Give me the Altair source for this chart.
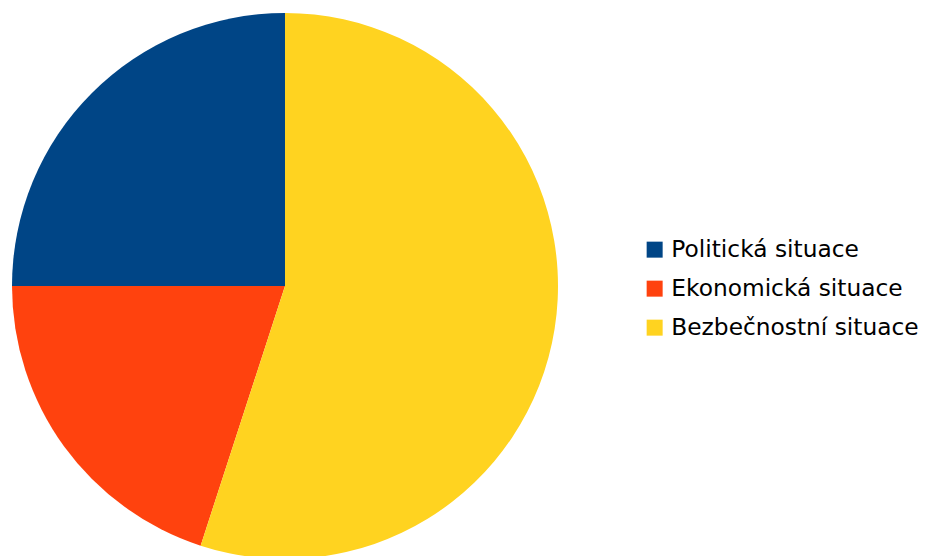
import altair as alt
import pandas as pd

categories = ["Politická situace", "Ekonomická situace", "Bezbečnostní situace"]
values = [25, 20, 55]
draw_order = [3, 2, 1]
colors = ["#004586", "#ff420e", "#ffd320"]

df = pd.DataFrame({"kategorie": categories, "hodnota": values, "poradi": draw_order})

chart = alt.Chart(df).mark_arc(stroke=None).encode(
    theta=alt.Theta("hodnota:Q", stack=True),
    order=alt.Order("poradi:Q"),
    color=alt.Color(
        "kategorie:N",
        sort=categories,
        scale=alt.Scale(domain=categories, range=colors),
        legend=alt.Legend(
            title=None,
            orient="none",
            legendX=643,
            legendY=238,
            symbolType="square",
            symbolSize=256,
            symbolStrokeWidth=0,
            labelFontSize=23.3,
            labelFont="DejaVu Sans",
            labelColor="#000000",
            labelOffset=5,
            labelLimit=0,
            rowPadding=15,
            padding=0,
        ),
    ),
    x=alt.value(285),
    y=alt.value(286),
    radius=alt.value(273),
).properties(
    width=925, height=556, padding=0, autosize=alt.AutoSizeParams(type="none")
).configure_view(stroke=None)

chart.save("out.html", embed_options={"renderer": "svg", "actions": False})
